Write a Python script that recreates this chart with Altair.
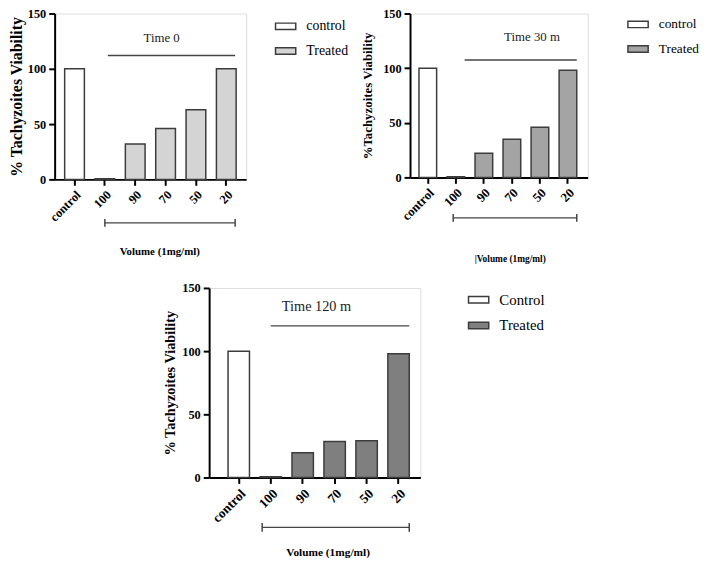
import altair as alt
import pandas as pd

# ---- data ----
categories = ["control", "100", "90", "70", "50", "20"]
viability_t0 = [100, 0.6, 32, 46, 63, 100]
viability_t30 = [100, 0.6, 22, 35, 46, 98]
viability_t120 = [100, 0.6, 19.5, 28.5, 29, 98]

panel_titles = ["Time 0", "Time 30 m", "Time 120 m"]
control_names = ["control", "control", "Control"]
treated_name = "Treated"
y_titles = ["% Tachyzoites Viability", "%Tachyzoites Viability", "% Tachyzoites Viability"]
x_titles = ["Volume (1mg/ml)", "|Volume (1mg/ml)", "Volume (1mg/ml)"]
y_ticks = [0, 50, 100, 150]

# annotation levels (data units)
label_levels = [128, 128.5, 135]
line_levels = [112, 107.5, 120]
bracket_levels = [-39.3, -37, -39.5]

SERIF = "Liberation Serif"


def panel(values, ctrl, treated_fill, ann_text, ytitle, xtitle, label_y, line_y,
          bracket_y, w, h, pad_inner, pad_outer, align, legend_x, legend_y,
          text_cat, text_dx, line_start_cat, line_start_bp, line_end_bp,
          br_start_bp, br_end_bp, tick_fs, ytitle_fs, ytitle_pad, xtitle_fs,
          xtitle_pad, legend_fs, text_fs, title_dx):
    xscale = alt.Scale(domain=categories, paddingInner=pad_inner,
                       paddingOuter=pad_outer, align=align)
    yscale = alt.Scale(domain=[0, 150])
    xaxis = alt.Axis(title=xtitle, labelAngle=-45, labelFont=SERIF,
                     labelFontWeight="bold", labelFontSize=tick_fs,
                     labelColor="black", labelPadding=3, tickSize=6,
                     tickWidth=2, tickColor="black", domainWidth=2,
                     domainColor="black", titleFont=SERIF, titleFontSize=xtitle_fs,
                     titleFontWeight="bold", titleColor="black",
                     titlePadding=xtitle_pad, titleX=w / 2 + title_dx)
    yaxis = alt.Axis(title=ytitle, values=y_ticks, labelFont=SERIF,
                     labelFontWeight="bold", labelFontSize=12.5,
                     labelColor="black", tickSize=6, tickWidth=2,
                     tickColor="black", domainWidth=2, domainColor="black",
                     titleFont=SERIF, titleFontSize=ytitle_fs, titleFontWeight="bold",
                     titleColor="black", titlePadding=ytitle_pad, grid=False,
                     labelPadding=3)

    df = pd.DataFrame({
        "cat": categories,
        "v": values,
        "grp": [ctrl] + [treated_name] * (len(categories) - 1),
    })
    bars = alt.Chart(df).mark_bar(stroke="#3c3c3c", strokeWidth=1.5).encode(
        x=alt.X("cat:N", scale=xscale, axis=xaxis),
        y=alt.Y("v:Q", scale=yscale, axis=yaxis),
        color=alt.Color(
            "grp:N",
            scale=alt.Scale(domain=[ctrl, treated_name], range=["white", treated_fill]),
            legend=alt.Legend(
                title=None, orient="none", legendX=legend_x, legendY=legend_y,
                symbolType="M-1,-0.32L1,-0.32L1,0.32L-1,0.32Z", symbolSize=420,
                symbolStrokeWidth=1.5, labelFont=SERIF, labelFontSize=legend_fs,
                labelColor="black", labelOffset=10, rowPadding=7,
            ),
        ),
    )

    txt_df = pd.DataFrame({"cat": [text_cat], "v": [label_y], "t": [ann_text]})
    text = alt.Chart(txt_df).mark_text(font=SERIF, fontSize=text_fs, color="#222",
                                       dx=text_dx, align="center").encode(
        x=alt.X("cat:N", scale=xscale, axis=xaxis),
        y=alt.Y("v:Q", scale=yscale, axis=yaxis),
        text="t:N",
    )

    line_df = pd.DataFrame({"cat": [line_start_cat], "cat_end": [categories[-1]], "v": [line_y]})
    line = alt.Chart(line_df).mark_rule(color="#444", strokeWidth=1.5).encode(
        x=alt.X("cat:N", scale=xscale, axis=xaxis, bandPosition=line_start_bp),
        x2=alt.X2("cat_end", bandPosition=line_end_bp),
        y=alt.Y("v:Q", scale=yscale, axis=yaxis),
    )

    br_df = pd.DataFrame({"cat": [categories[1]], "cat_end": [categories[-1]], "v": [bracket_y]})
    bracket = alt.Chart(br_df).mark_rule(color="#444", strokeWidth=1.2).encode(
        x=alt.X("cat:N", scale=xscale, axis=xaxis, bandPosition=br_start_bp),
        x2=alt.X2("cat_end", bandPosition=br_end_bp),
        y=alt.Y("v:Q", scale=yscale, axis=yaxis),
    )
    cap_df = pd.DataFrame({"cat": [categories[1]], "v": [bracket_y - 3.5], "v2": [bracket_y + 3.5]})
    cap1 = alt.Chart(cap_df).mark_rule(color="#444", strokeWidth=1.5).encode(
        x=alt.X("cat:N", scale=xscale, axis=xaxis, bandPosition=br_start_bp),
        y=alt.Y("v:Q", scale=yscale, axis=yaxis),
        y2="v2",
    )
    cap_df2 = pd.DataFrame({"cat": [categories[-1]], "v": [bracket_y - 3.5], "v2": [bracket_y + 3.5]})
    cap2 = alt.Chart(cap_df2).mark_rule(color="#444", strokeWidth=1.5).encode(
        x=alt.X("cat:N", scale=xscale, axis=xaxis, bandPosition=br_end_bp),
        y=alt.Y("v:Q", scale=yscale, axis=yaxis),
        y2="v2",
    )
    return alt.layer(bars, text, line, bracket, cap1, cap2).properties(width=w, height=h)


p1 = panel(viability_t0, control_names[0], "#d4d4d4", panel_titles[0], y_titles[0], x_titles[0],
           label_levels[0], line_levels[0], bracket_levels[0], 194, 168, 0.35, 0.33, 0.5,
           223, 2, "70", -4, "100", 0.65, 0.95, 0.5, 0.95,
           12.5, 16, 3, 11, 22, 14, 13, 9)
p2 = panel(viability_t30, control_names[1], "#a4a4a4", panel_titles[1], y_titles[1], x_titles[1],
           label_levels[1], line_levels[1], bracket_levels[1], 180, 166, 0.37, 0.355, 0.45,
           220, 0, "50", -8, "100", 1.0, 1.0, 0.35, 1.0,
           13, 13, 8, 9.5, 31, 13.5, 13, 11)
p3 = panel(viability_t120, control_names[2], "#7f7f7f", panel_titles[2], y_titles[2], x_titles[2],
           label_levels[2], line_levels[2], bracket_levels[2], 214, 192, 0.33, 0.47, 0.63,
           262, 1, "90", 14, "100", 0.5, 1.0, 0.1, 1.0,
           13.5, 14.5, 4, 11.5, 22, 15, 14.5, 13)

top = alt.hconcat(p1, p2, spacing=11).resolve_scale(color="independent", x="independent", y="independent")
chart = alt.vconcat(top, p3, spacing=17, center=True).resolve_scale(
    color="independent", x="independent", y="independent"
).properties(padding={"left": 0, "top": -5, "right": 0, "bottom": 0}).configure_view(
    stroke=None
).configure(background="white")

chart.save("out.html", embed_options={"renderer": "svg", "actions": False})
